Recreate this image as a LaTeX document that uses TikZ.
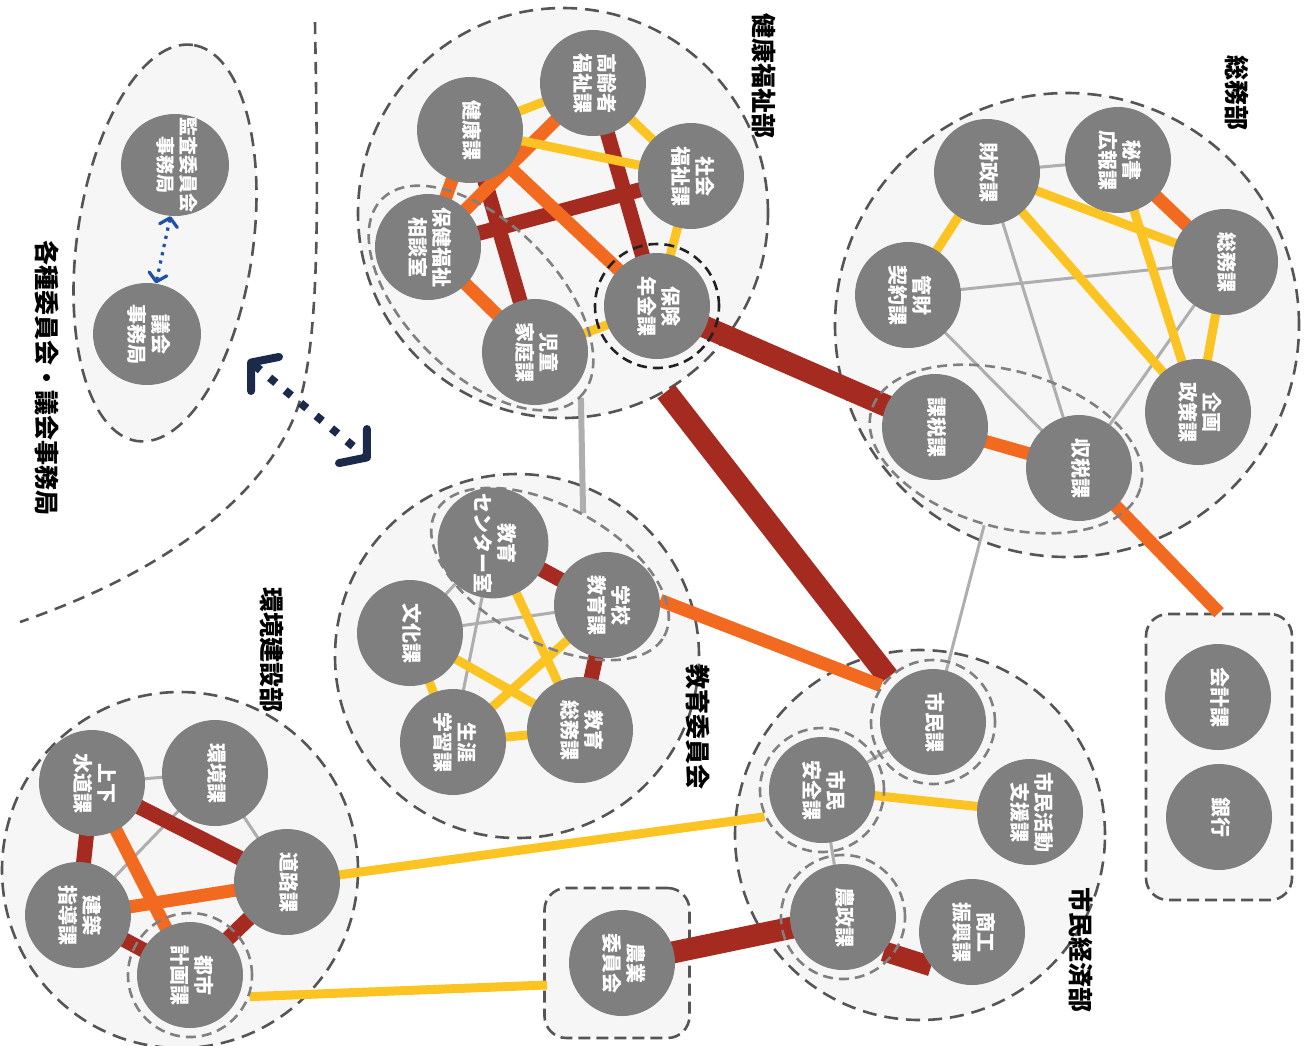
\documentclass[tikz,border=0pt]{standalone}
\usepackage{fontspec}
\setmainfont{Noto Sans CJK JP}
\usepackage{graphicx}
\usetikzlibrary{arrows.meta,shapes.geometric}
\pgfdeclarelayer{back}
\pgfdeclarelayer{links}
\pgfdeclarelayer{groups}
\pgfsetlayers{back,links,groups,main}
\definecolor{cy}{HTML}{FBC422}
\definecolor{co}{HTML}{F26A1F}
\definecolor{cr}{HTML}{A52A1F}
\definecolor{cg}{HTML}{AEAEAE}
\definecolor{cn}{HTML}{7F7F7F}
\definecolor{cdept}{HTML}{F6F6F6}
\definecolor{cdash}{HTML}{555555}
\definecolor{csub}{HTML}{808080}
\definecolor{cblk}{HTML}{222222}
\definecolor{navy}{HTML}{1B2A4B}
\definecolor{blu}{HTML}{1F4FA6}
\newcommand{\vt}[1]{\rotatebox[origin=c]{-90}{\begin{tabular}{@{}c@{}}#1\end{tabular}}}
\begin{document}
\begin{tikzpicture}[x=0.5pt,y=-0.5pt,
  unit/.style={circle,fill=cn,minimum size=53pt,inner sep=0pt,text=white,font=\bfseries\fontsize{10}{11.5}\selectfont},
  dept/.style={circle,draw=cdash,fill=cdept,line width=1.3pt,dash pattern=on 7pt off 4pt,inner sep=0pt},
  deptbox/.style={rectangle,rounded corners=11pt,draw=cdash,fill=cdept,line width=1.3pt,dash pattern=on 6pt off 3pt,inner sep=0pt},
  subc/.style={circle,draw=csub,line width=1.3pt,dash pattern=on 5pt off 3pt,minimum size=62pt,inner sep=0pt},
  grp/.style={ellipse,draw=csub,line width=1.3pt,dash pattern=on 5pt off 3pt,inner sep=0pt},
  dlabel/.style={font=\bfseries\fontsize{12.5}{12.5}\selectfont,text=black,inner sep=0pt},
  ly/.style={draw=cy,line width=4.5pt},
  lo/.style={draw=co,line width=6.5pt},
  lr/.style={draw=cr,line width=7.5pt},
  lrt/.style={draw=cr,line width=11pt},
  lg/.style={draw=cg,line width=1.5pt},
  lgt/.style={draw=cg,line width=3pt},
  sep/.style={draw=cdash,line width=1.3pt,dash pattern=on 6pt off 4pt},
]
\useasboundingbox (0,0) rectangle (1311,1045);

% ---------- departments (background) ----------
\begin{pgfonlayer}{back}
\node[dept,minimum size=205pt] (kenkoD) at (563,213) {};
\node[dept,minimum size=232pt] (somuD) at (1067,325) {};
\node[dept,minimum size=182pt] (kyoikuD) at (517,656) {};
\node[dept,minimum size=178pt] (kankyoD) at (180,870) {};
\node[dept,minimum size=185pt] (shiminD) at (920,835) {};
\node[deptbox,minimum width=73pt,minimum height=143pt] (kaikeiB) at (1219,757) {};
\node[deptbox,minimum width=72.5pt,minimum height=75pt] (nogyoB) at (617,963) {};
\node[ellipse,draw=cdash,fill=cdept,line width=1.3pt,dash pattern=on 7pt off 4pt,inner sep=0pt,
      minimum width=200pt,minimum height=88pt,rotate=82] (iinD) at (165,243) {};
\draw[sep] (315,22) .. controls (318,200) and (320,330) .. (300,400)
           .. controls (280,470) and (200,560) .. (20,622);
\end{pgfonlayer}

% ---------- units ----------
% health and welfare
\node[unit] (kenko) at (470,130) {\vt{健康課}};
\node[unit] (koreisha) at (593,83) {\vt{高齢者\\福祉課}};
\node[unit] (shakai) at (691,176) {\vt{社会\\福祉課}};
\node[unit] (soudan) at (428,247) {\vt{保健福祉\\相談室}};
\node[unit] (hoken) at (657,306) {\vt{保険\\年金課}};
\node[unit] (jido) at (535,352) {\vt{児童\\家庭課}};
% general affairs
\node[unit] (zaisei) at (987,172) {\vt{財政課}};
\node[unit] (hisho) at (1118,160) {\vt{秘書\\広報課}};
\node[unit] (somu) at (1225,262) {\vt{総務課}};
\node[unit] (kanzai) at (908,295) {\vt{管財\\契約課}};
\node[unit] (kikaku) at (1198,412) {\vt{企画\\政策課}};
\node[unit] (kazei) at (935,427) {\vt{課税課}};
\node[unit] (shuzei) at (1079,468) {\vt{収税課}};
% education
\node[unit] (kcenter) at (493,543) {\vt{教育\\センター室}};
\node[unit] (gakko) at (607,605) {\vt{学校\\教育課}};
\node[unit] (bunka) at (410,633) {\vt{文化課}};
\node[unit] (ksomu) at (580,730) {\vt{教育\\総務課}};
\node[unit] (shogai) at (453,742) {\vt{生涯\\学習課}};
% environment and construction
\node[unit] (kankyo) at (215,773) {\vt{環境課}};
\node[unit] (gesui) at (92,783) {\vt{上下\\水道課}};
\node[unit] (doro) at (287,882) {\vt{道路課}};
\node[unit] (kenchiku) at (78,915) {\vt{建築\\指導課}};
\node[unit] (toshi) at (190,975) {\vt{都市\\計画課}};
% citizens and economy
\node[unit] (shimin) at (933,722) {\vt{市民課}};
\node[unit] (anzen) at (822,790) {\vt{市民\\安全課}};
\node[unit] (katsudo) at (1030,812) {\vt{市民活動\\支援課}};
\node[unit] (nosei) at (843,917) {\vt{農政課}};
\node[unit] (shoko) at (972,932) {\vt{商工\\振興課}};
% others
\node[unit] (kaikei) at (1218,697) {\vt{会計課}};
\node[unit] (ginko) at (1219,817) {\vt{銀行}};
\node[unit] (nogyo) at (622,963) {\vt{農業\\委員会}};
\node[unit,ellipse,minimum width=54pt,minimum height=51pt,
      label={[text=white,font=\bfseries\fontsize{9.5}{11}\selectfont]center:\vt{監査委員会\\事務局}}] (kansa) at (175,165) {};
\node[unit,ellipse,minimum width=54pt,minimum height=51pt] (gikai) at (147,334) {\vt{議会\\事務局}};

% ---------- sub groups ----------
\begin{pgfonlayer}{groups}
\node[subc,draw=cblk] (hokenS) at (hoken) {};
\node[subc] (toshiS) at (toshi) {};
\node[subc] (shiminS) at (shimin) {};
\node[subc] (anzenS) at (anzen) {};
\node[subc] (noseiS) at (nosei) {};
\node[grp,minimum width=140pt,minimum height=75pt,rotate=-45] (kenkoG) at (481,298) {};
\node[grp,minimum width=130pt,minimum height=68pt,rotate=-28.5] (kyoikuG) at (550,574) {};
\node[grp,minimum width=140pt,minimum height=78pt,rotate=-16] (zeiG) at (1006,449) {};
\end{pgfonlayer}

% ---------- links ----------
\begin{pgfonlayer}{links}
% health and welfare
\draw[ly] (kenko.center) -- (koreisha.center);
\draw[ly] (koreisha.center) -- (shakai.center);
\draw[ly] (shakai.center) -- (hoken.center);
\draw[ly] (hoken.center) -- (jido.center);
\draw[lo] (jido.center) -- (soudan.center);
\draw[lo] (soudan.center) -- (kenko.center);
\draw[lr] (kenko.center) -- (jido.center);
\draw[lr] (koreisha.center) -- (hoken.center);
\draw[lr] (shakai.center) -- (soudan.center);
\draw[lo] (koreisha.center) -- (soudan.center);
\draw[lo] (kenko.center) -- (hoken.center);
\draw[ly] (kenko.center) -- (shakai.center);
% general affairs
\draw[lg] (zaisei.center) -- (hisho.center);
\draw[lg] (kanzai.center) -- (somu.center);
\draw[lg] (kanzai.center) -- (shuzei.center);
\draw[lg] (zaisei.center) -- (shuzei.center);
\draw[lg] (somu.center) -- (shuzei.center);
\draw[lo] (hisho.center) -- (somu.center);
\draw[ly] (somu.center) -- (kikaku.center);
\draw[ly] (zaisei.center) -- (kanzai.center);
\draw[ly] (zaisei.center) -- (somu.center);
\draw[ly] (zaisei.center) -- (kikaku.center);
\draw[ly] (hisho.center) -- (kikaku.center);
\draw[lo] (kazei.center) -- (shuzei.center);
% education
\draw[lg] (bunka.center) -- (kcenter.center);
\draw[lg] (bunka.center) -- (gakko.center);
\draw[lg] (kcenter.center) -- (shogai.center);
\draw[ly] (ksomu.center) -- (shogai.center);
\draw[ly] (shogai.center) -- (bunka.center);
\draw[ly] (kcenter.center) -- (ksomu.center);
\draw[ly] (bunka.center) -- (ksomu.center);
\draw[ly] (gakko.center) -- (shogai.center);
\draw[lr] (kcenter.center) -- (gakko.center);
\draw[lr] (gakko.center) -- (ksomu.center);
% environment and construction
\draw[lg] (gesui.center) -- (kankyo.center);
\draw[lg] (kankyo.center) -- (doro.center);
\draw[lg] (kankyo.center) -- (kenchiku.center);
\draw[lr] (gesui.center) -- (doro.center);
\draw[lr] (gesui.center) -- (kenchiku.center);
\draw[lr] (kenchiku.center) -- (toshi.center);
\draw[lr] (toshi.center) -- (doro.center);
\draw[lo] (gesui.center) -- (toshi.center);
\draw[lo] (kenchiku.center) -- (doro.center);
% citizens and economy
\draw[ly] (anzen.center) -- (katsudo.center);
\draw[lg] (shimin.center) -- (anzen.center);
\draw[lg] (anzen.center) -- (nosei.center);
\draw[draw=cr,line width=10pt] (nosei.-40) -- (shoko.-140);
% between departments
\draw[lrt] (hoken.center) -- (kazei.center);
\draw[lrt] (kenkoD.-60) -- (shiminS.135);
\draw[lo] (gakko.5) -- (shiminS.145);
\draw[lgt] (kenkoG.east) -- (kyoikuG.north);
\draw[lg] (zeiG.south) -- (shimin.center);
\draw[lo] (shuzei.center) -- (kaikeiB.north);
\draw[ly] (doro.center) -- (anzenS.-155);
\coordinate (ngin) at (547,985);
\draw[ly] (toshiS.-20) -- (ngin);
\draw[lrt] (nogyo.center) -- (nosei.center);
\end{pgfonlayer}

% ---------- arrows ----------
\draw[blu,line width=1.6pt,dash pattern=on 1.6pt off 2.6pt,
      {Straight Barb[length=4pt,width=9pt,line width=1.6pt,round]}-{Straight Barb[length=4pt,width=9pt,line width=1.6pt,round]}]
      (kansa.-95) -- (gikai.80);
\coordinate (na1) at (248,360);
\coordinate (na2) at (370,460);
\draw[navy,line width=4pt,dash pattern=on 4pt off 6pt,
      {Straight Barb[length=9pt,width=22pt,line width=4pt,round]}-{Straight Barb[length=9pt,width=22pt,line width=4pt,round]}]
      (na1) -- (na2);

% ---------- department labels ----------
\node[dlabel] (lkenko) at (764,76) {\rotatebox{-90}{健康福祉部}};
\node[dlabel] (lsomu) at (1237,93) {\rotatebox{-90}{総務部}};
\node[dlabel] (lkyoiku) at (698,727) {\rotatebox{-90}{教育委員会}};
\node[dlabel] (lkankyo) at (272,650) {\rotatebox{-90}{環境建設部}};
\node[dlabel] (lshimin) at (1081,950) {\rotatebox{-90}{市民経済部}};
\node[dlabel] (liin) at (47,378) {\rotatebox{-90}{各種委員会・議会事務局}};
\end{tikzpicture}
\end{document}
